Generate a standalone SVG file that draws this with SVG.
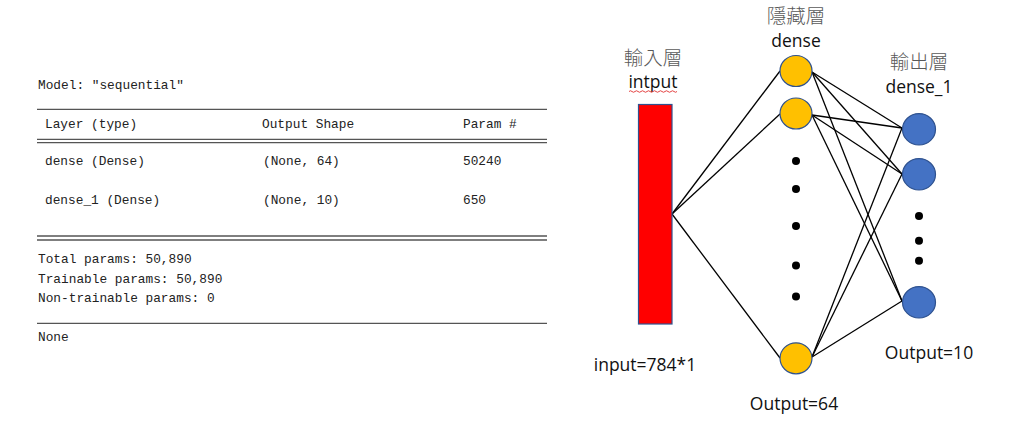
<svg xmlns="http://www.w3.org/2000/svg" width="1024" height="435" viewBox="0 0 1024 435">
<style>
.mono{font-family:"Liberation Mono","DejaVu Sans Mono",monospace;font-size:12.8px;fill:#222}
.rule{stroke:#555;stroke-width:1.3;fill:none}
.lbl{font-family:"Open Sans","Liberation Sans",sans-serif;font-size:17.5px;fill:#111;text-anchor:middle}
.cjk{font-family:"Noto Sans CJK TC","Noto Sans CJK SC",sans-serif;font-size:19.5px;fill:#595959;text-anchor:middle;font-weight:300}
.hid{fill:#FFC000;stroke:#2F528F;stroke-width:1.2}
.out{fill:#4472C4;stroke:#2F528F;stroke-width:1.2}
.dot{fill:#000}
.conn line{stroke:#000;stroke-width:1.3}
</style>
<rect width="1024" height="435" fill="#fff"/>

<g id="summary">
<text class="mono" x="38" y="89">Model: "sequential"</text>
<line class="rule" x1="37" y1="109.3" x2="547" y2="109.3"/>
<text class="mono" x="45" y="127.5">Layer (type)</text>
<text class="mono" x="262" y="127.5">Output Shape</text>
<text class="mono" x="463" y="127.5">Param #</text>
<line class="rule" x1="37" y1="139.3" x2="547" y2="139.3"/>
<line class="rule" x1="37" y1="142.7" x2="547" y2="142.7"/>
<text class="mono" x="45" y="165">dense (Dense)</text>
<text class="mono" x="263" y="165">(None, 64)</text>
<text class="mono" x="463" y="165">50240</text>
<text class="mono" x="45" y="204">dense_1 (Dense)</text>
<text class="mono" x="263" y="204">(None, 10)</text>
<text class="mono" x="463" y="204">650</text>
<line class="rule" x1="37" y1="236" x2="547" y2="236"/>
<line class="rule" x1="37" y1="240" x2="547" y2="240"/>
<text class="mono" x="38" y="263">Total params: 50,890</text>
<text class="mono" x="38" y="282.5">Trainable params: 50,890</text>
<text class="mono" x="38" y="302">Non-trainable params: 0</text>
<line class="rule" x1="37" y1="323.3" x2="547" y2="323.3"/>
<text class="mono" x="38" y="340.5">None</text>
</g>

<g class="conn" id="connectors">
<line x1="672" y1="214" x2="780" y2="71"/>
<line x1="672" y1="214" x2="780" y2="114"/>
<line x1="672" y1="214" x2="780" y2="358"/>
<line x1="812" y1="72" x2="902" y2="128"/>
<line x1="812" y1="72" x2="902" y2="174"/>
<line x1="812" y1="72" x2="902" y2="301"/>
<line x1="812" y1="115" x2="902" y2="128"/>
<line x1="812" y1="115" x2="902" y2="174"/>
<line x1="812" y1="115" x2="902" y2="301"/>
<line x1="812" y1="357" x2="902" y2="128"/>
<line x1="812" y1="357" x2="902" y2="174"/>
<line x1="812" y1="357" x2="902" y2="301"/>
</g>

<g id="input-layer">
<text class="cjk" x="653" y="65">輸入層</text>
<text class="lbl" x="653" y="88">intput</text>
<path d="M629 91.5 q1.5 -1.5 3 0 t3 0 t3 0 t3 0 t3 0 t3 0 t3 0 t3 0 t3 0 t3 0 t3 0 t3 0 t3 0 t3 0 t3 0 t3 0" fill="none" stroke="#e03030" stroke-width="0.9"/>
<rect x="638.5" y="104.5" width="33.5" height="219.5" fill="#FF0000" stroke="#2F528F" stroke-width="1.2"/>
<text class="lbl" x="645" y="371">input=784*1</text>
</g>

<g id="hidden-layer">
<text class="cjk" x="796" y="23">隱藏層</text>
<text class="lbl" x="796" y="46.5">dense</text>
<ellipse class="hid" cx="796" cy="71" rx="16" ry="15.5"/>
<ellipse class="hid" cx="796" cy="113.5" rx="16" ry="15.5"/>
<circle class="dot" cx="796" cy="161" r="4"/>
<circle class="dot" cx="796" cy="189" r="4"/>
<circle class="dot" cx="796" cy="226" r="4"/>
<circle class="dot" cx="796" cy="265.5" r="4"/>
<circle class="dot" cx="796" cy="296.5" r="4"/>
<ellipse class="hid" cx="796" cy="358.3" rx="16" ry="15.5"/>
<text class="lbl" x="794" y="409.5">Output=64</text>
</g>

<g id="output-layer">
<text class="cjk" x="919" y="69">輸出層</text>
<text class="lbl" x="919" y="93">dense_1</text>
<ellipse class="out" cx="919" cy="129.3" rx="16.5" ry="15.7"/>
<ellipse class="out" cx="919" cy="174.3" rx="16.5" ry="15.7"/>
<circle class="dot" cx="919" cy="216" r="4"/>
<circle class="dot" cx="919" cy="240.7" r="4"/>
<circle class="dot" cx="919" cy="260.7" r="4"/>
<ellipse class="out" cx="919" cy="302.3" rx="16.5" ry="15.7"/>
<text class="lbl" x="929" y="358.5">Output=10</text>
</g>
</svg>
